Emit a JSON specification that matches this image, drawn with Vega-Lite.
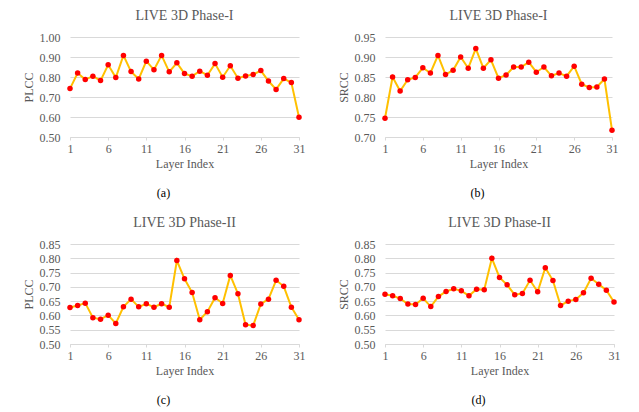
{
  "$schema": "https://vega.github.io/schema/vega-lite/v6.json",
  "padding": {"left": 22, "top": 9, "right": 5, "bottom": 5},
  "background": "white",
  "datasets": {
    "a": [
      {"layer": 1, "value": 0.742}, {"layer": 2, "value": 0.820}, {"layer": 3, "value": 0.787}, {"layer": 4, "value": 0.804},
      {"layer": 5, "value": 0.782}, {"layer": 6, "value": 0.861}, {"layer": 7, "value": 0.797}, {"layer": 8, "value": 0.908},
      {"layer": 9, "value": 0.827}, {"layer": 10, "value": 0.790}, {"layer": 11, "value": 0.879}, {"layer": 12, "value": 0.836},
      {"layer": 13, "value": 0.908}, {"layer": 14, "value": 0.826}, {"layer": 15, "value": 0.871}, {"layer": 16, "value": 0.817},
      {"layer": 17, "value": 0.804}, {"layer": 18, "value": 0.829}, {"layer": 19, "value": 0.809}, {"layer": 20, "value": 0.867},
      {"layer": 21, "value": 0.799}, {"layer": 22, "value": 0.856}, {"layer": 23, "value": 0.794}, {"layer": 24, "value": 0.805},
      {"layer": 25, "value": 0.812}, {"layer": 26, "value": 0.832}, {"layer": 27, "value": 0.780}, {"layer": 28, "value": 0.738},
      {"layer": 29, "value": 0.792}, {"layer": 30, "value": 0.772}, {"layer": 31, "value": 0.599}
    ],
    "b": [
      {"layer": 1, "value": 0.747}, {"layer": 2, "value": 0.850}, {"layer": 3, "value": 0.815}, {"layer": 4, "value": 0.843},
      {"layer": 5, "value": 0.849}, {"layer": 6, "value": 0.873}, {"layer": 7, "value": 0.860}, {"layer": 8, "value": 0.904},
      {"layer": 9, "value": 0.856}, {"layer": 10, "value": 0.867}, {"layer": 11, "value": 0.900}, {"layer": 12, "value": 0.872},
      {"layer": 13, "value": 0.921}, {"layer": 14, "value": 0.872}, {"layer": 15, "value": 0.893}, {"layer": 16, "value": 0.847},
      {"layer": 17, "value": 0.855}, {"layer": 18, "value": 0.875}, {"layer": 19, "value": 0.875}, {"layer": 20, "value": 0.887},
      {"layer": 21, "value": 0.862}, {"layer": 22, "value": 0.875}, {"layer": 23, "value": 0.853}, {"layer": 24, "value": 0.860},
      {"layer": 25, "value": 0.852}, {"layer": 26, "value": 0.877}, {"layer": 27, "value": 0.832}, {"layer": 28, "value": 0.824},
      {"layer": 29, "value": 0.825}, {"layer": 30, "value": 0.845}, {"layer": 31, "value": 0.717}
    ],
    "c": [
      {"layer": 1, "value": 0.628}, {"layer": 2, "value": 0.635}, {"layer": 3, "value": 0.643}, {"layer": 4, "value": 0.592},
      {"layer": 5, "value": 0.587}, {"layer": 6, "value": 0.601}, {"layer": 7, "value": 0.572}, {"layer": 8, "value": 0.630},
      {"layer": 9, "value": 0.657}, {"layer": 10, "value": 0.630}, {"layer": 11, "value": 0.641}, {"layer": 12, "value": 0.629},
      {"layer": 13, "value": 0.641}, {"layer": 14, "value": 0.629}, {"layer": 15, "value": 0.792}, {"layer": 16, "value": 0.728},
      {"layer": 17, "value": 0.680}, {"layer": 18, "value": 0.585}, {"layer": 19, "value": 0.613}, {"layer": 20, "value": 0.662},
      {"layer": 21, "value": 0.642}, {"layer": 22, "value": 0.740}, {"layer": 23, "value": 0.676}, {"layer": 24, "value": 0.567},
      {"layer": 25, "value": 0.565}, {"layer": 26, "value": 0.640}, {"layer": 27, "value": 0.657}, {"layer": 28, "value": 0.723},
      {"layer": 29, "value": 0.702}, {"layer": 30, "value": 0.629}, {"layer": 31, "value": 0.585}
    ],
    "d": [
      {"layer": 1, "value": 0.674}, {"layer": 2, "value": 0.669}, {"layer": 3, "value": 0.659}, {"layer": 4, "value": 0.640},
      {"layer": 5, "value": 0.638}, {"layer": 6, "value": 0.660}, {"layer": 7, "value": 0.631}, {"layer": 8, "value": 0.666},
      {"layer": 9, "value": 0.684}, {"layer": 10, "value": 0.693}, {"layer": 11, "value": 0.686}, {"layer": 12, "value": 0.669},
      {"layer": 13, "value": 0.692}, {"layer": 14, "value": 0.690}, {"layer": 15, "value": 0.800}, {"layer": 16, "value": 0.733},
      {"layer": 17, "value": 0.707}, {"layer": 18, "value": 0.672}, {"layer": 19, "value": 0.677}, {"layer": 20, "value": 0.723},
      {"layer": 21, "value": 0.683}, {"layer": 22, "value": 0.767}, {"layer": 23, "value": 0.722}, {"layer": 24, "value": 0.635},
      {"layer": 25, "value": 0.650}, {"layer": 26, "value": 0.656}, {"layer": 27, "value": 0.679}, {"layer": 28, "value": 0.730},
      {"layer": 29, "value": 0.709}, {"layer": 30, "value": 0.688}, {"layer": 31, "value": 0.647}
    ]
  },
  "config": {
    "font": "Liberation Serif",
    "view": {"stroke": null},
    "style": {"guide-label": {"font": "Liberation Serif"}, "guide-title": {"font": "Liberation Serif"}},
    "axis": {
      "labelFont": "Liberation Serif", "labelFontSize": 12, "labelColor": "#595959",
      "titleFont": "Liberation Serif", "titleFontSize": 12, "titleColor": "#595959", "titleFontWeight": "normal",
      "gridColor": "#d9d9d9", "domainColor": "#d9d9d9", "tickColor": "#d9d9d9"
    },
    "title": {"font": "Liberation Serif", "fontSize": 14, "fontWeight": "normal", "color": "#595959"}
  },
  "spacing": 17,
  "vconcat": [
    {
      "spacing": 32,
      "hconcat": [
        {
          "title": {"text": "(a)", "orient": "bottom", "anchor": "middle", "color": "black", "fontSize": 12, "offset": 19},
          "hconcat": [
            {
              "width": 229, "height": 100,
              "title": {"text": "LIVE 3D Phase-I", "offset": 8},
              "data": {"name": "a"},
              "encoding": {
                "x": {"field": "layer", "type": "quantitative", "scale": {"domain": [1, 31], "nice": false},
                  "axis": {"values": [1, 6, 11, 16, 21, 26, 31], "grid": false, "title": "Layer Index", "tickSize": 3, "labelFlush": false, "labelPadding": 3, "labelFont": "Liberation Serif"}},
                "y": {"field": "value", "type": "quantitative", "scale": {"domain": [0.5, 1.0], "nice": false, "zero": false},
                  "axis": {"values": [0.5, 0.6, 0.7, 0.8, 0.9, 1.0], "format": ".2f", "domain": false, "ticks": false, "title": "PLCC", "labelPadding": 10, "labelFont": "Liberation Serif"}}
              },
              "layer": [
                {"mark": {"type": "line", "color": "#FFC000", "strokeWidth": 2}},
                {"mark": {"type": "point", "filled": true, "color": "#FF0000", "size": 30, "opacity": 1}}
              ]
            }
          ]
        },
        {
          "title": {"text": "(b)", "orient": "bottom", "anchor": "middle", "color": "black", "fontSize": 12, "offset": 19},
          "hconcat": [
            {
              "width": 227, "height": 100,
              "title": {"text": "LIVE 3D Phase-I", "offset": 8},
              "data": {"name": "b"},
              "encoding": {
                "x": {"field": "layer", "type": "quantitative", "scale": {"domain": [1, 31], "nice": false},
                  "axis": {"values": [1, 6, 11, 16, 21, 26, 31], "grid": false, "title": "Layer Index", "tickSize": 3, "labelFlush": false, "labelPadding": 3, "labelFont": "Liberation Serif"}},
                "y": {"field": "value", "type": "quantitative", "scale": {"domain": [0.7, 0.95], "nice": false, "zero": false},
                  "axis": {"values": [0.7, 0.75, 0.8, 0.85, 0.9, 0.95], "format": ".2f", "domain": false, "ticks": false, "title": "SRCC", "labelPadding": 10, "labelFont": "Liberation Serif"}}
              },
              "layer": [
                {"mark": {"type": "line", "color": "#FFC000", "strokeWidth": 2}},
                {"mark": {"type": "point", "filled": true, "color": "#FF0000", "size": 30, "opacity": 1}}
              ]
            }
          ]
        }
      ]
    },
    {
      "spacing": 32,
      "hconcat": [
        {
          "title": {"text": "(c)", "orient": "bottom", "anchor": "middle", "color": "black", "fontSize": 12, "offset": 19},
          "hconcat": [
            {
              "width": 229, "height": 100,
              "title": {"text": "LIVE 3D Phase-II", "offset": 8},
              "data": {"name": "c"},
              "encoding": {
                "x": {"field": "layer", "type": "quantitative", "scale": {"domain": [1, 31], "nice": false},
                  "axis": {"values": [1, 6, 11, 16, 21, 26, 31], "grid": false, "title": "Layer Index", "tickSize": 3, "labelFlush": false, "labelPadding": 3, "labelFont": "Liberation Serif"}},
                "y": {"field": "value", "type": "quantitative", "scale": {"domain": [0.5, 0.85], "nice": false, "zero": false},
                  "axis": {"values": [0.5, 0.55, 0.6, 0.65, 0.7, 0.75, 0.8, 0.85], "format": ".2f", "domain": false, "ticks": false, "title": "PLCC", "labelPadding": 10, "labelFont": "Liberation Serif"}}
              },
              "layer": [
                {"mark": {"type": "line", "color": "#FFC000", "strokeWidth": 2}},
                {"mark": {"type": "point", "filled": true, "color": "#FF0000", "size": 30, "opacity": 1}}
              ]
            }
          ]
        },
        {
          "title": {"text": "(d)", "orient": "bottom", "anchor": "middle", "color": "black", "fontSize": 12, "offset": 19},
          "hconcat": [
            {
              "width": 229, "height": 100,
              "title": {"text": "LIVE 3D Phase-II", "offset": 8},
              "data": {"name": "d"},
              "encoding": {
                "x": {"field": "layer", "type": "quantitative", "scale": {"domain": [1, 31], "nice": false},
                  "axis": {"values": [1, 6, 11, 16, 21, 26, 31], "grid": false, "title": "Layer Index", "tickSize": 3, "labelFlush": false, "labelPadding": 3, "labelFont": "Liberation Serif"}},
                "y": {"field": "value", "type": "quantitative", "scale": {"domain": [0.5, 0.85], "nice": false, "zero": false},
                  "axis": {"values": [0.5, 0.55, 0.6, 0.65, 0.7, 0.75, 0.8, 0.85], "format": ".2f", "domain": false, "ticks": false, "title": "SRCC", "labelPadding": 10, "labelFont": "Liberation Serif"}}
              },
              "layer": [
                {"mark": {"type": "line", "color": "#FFC000", "strokeWidth": 2}},
                {"mark": {"type": "point", "filled": true, "color": "#FF0000", "size": 30, "opacity": 1}}
              ]
            }
          ]
        }
      ]
    }
  ]
}
